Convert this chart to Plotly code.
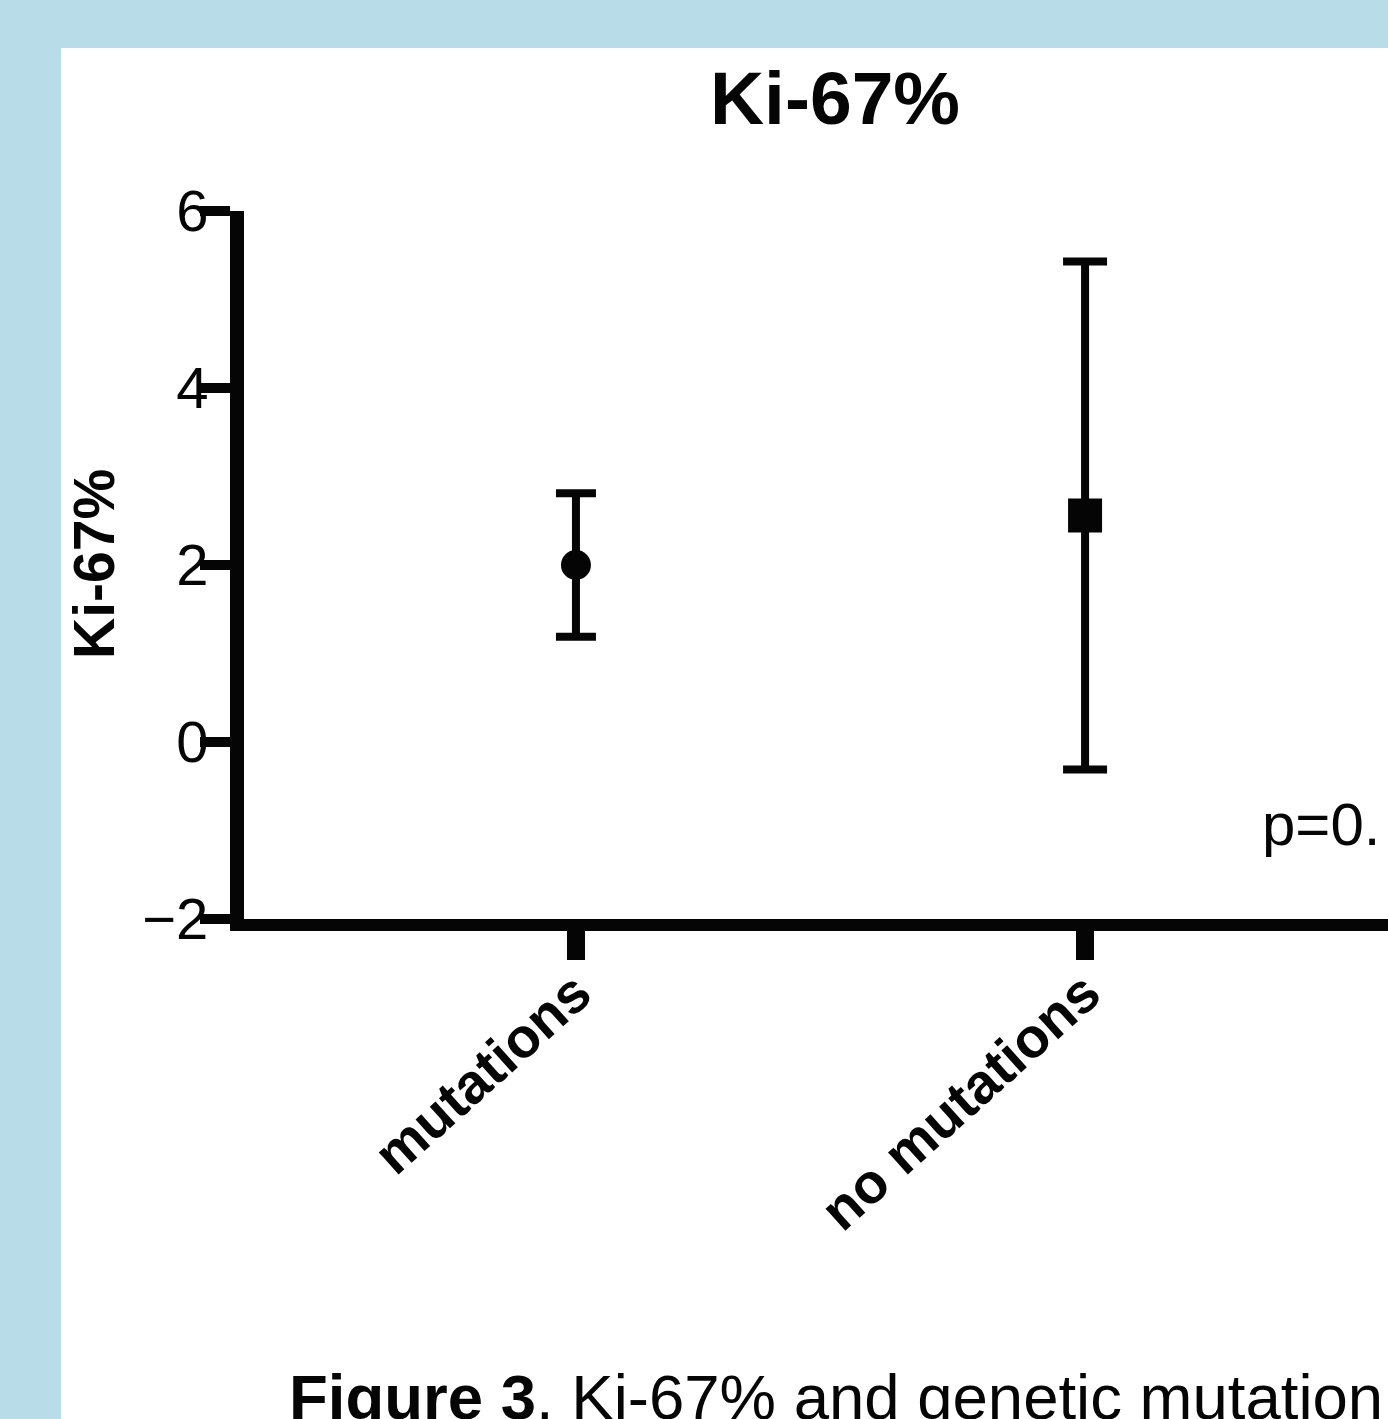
import plotly.graph_objects as go

categories = ["mutations", "no mutations"]
means = [2.0, 2.56]
errors = [0.81, 2.87]
symbols = ["circle", "square"]
marker_sizes = [30, 34]
cap_widths = [20, 22]
y_ticks = [-2, 0, 2, 4, 6]

W, H = 1388, 1419
L, R, T, B = 244, 0, 211, 500
PW, PH = W - L - R, H - T - B
FONT = "Arial, 'Liberation Sans', sans-serif"
BLACK = "#050505"

def px_to_paper_x(px):
    return (px - L) / PW

def px_to_paper_y(py):
    return (H - B - py) / PH

fig = go.Figure()
for i, cat in enumerate(categories):
    fig.add_trace(go.Scatter(
        x=[i], y=[means[i]], mode="markers",
        marker=dict(symbol=symbols[i], size=marker_sizes[i], color=BLACK),
        error_y=dict(type="data", array=[errors[i]], visible=True,
                     thickness=8, width=cap_widths[i], color=BLACK),
        showlegend=False, name=cat,
    ))

fig.add_shape(type="rect", xref="paper", yref="paper",
              x0=px_to_paper_x(61), x1=1.05, y0=-1.0, y1=px_to_paper_y(48),
              fillcolor="white", line=dict(width=0), layer="below")

fig.add_annotation(text="<b>Ki-67%</b>", xref="paper", yref="paper",
                   x=px_to_paper_x(94), y=px_to_paper_y(564), textangle=-90,
                   showarrow=False, font=dict(family=FONT, size=57, color=BLACK),
                   xanchor="center", yanchor="middle")
fig.add_annotation(text="p=0.", xref="paper", yref="paper",
                   x=px_to_paper_x(1260), y=px_to_paper_y(824),
                   showarrow=False, font=dict(family=FONT, size=60, color=BLACK),
                   xanchor="left", yanchor="middle")
fig.add_annotation(text="<b>Figure 3</b>. Ki-67% and genetic mutation", xref="paper", yref="paper",
                   x=px_to_paper_x(287), y=px_to_paper_y(1397),
                   showarrow=False, font=dict(family=FONT, size=63.5, color=BLACK),
                   xanchor="left", yanchor="middle")

fig.update_layout(
    width=W, height=H,
    margin=dict(l=L, r=R, t=T, b=B, autoexpand=False),
    paper_bgcolor="#b8dde8", plot_bgcolor="white",
    title=dict(text="<b>Ki-67%</b>", xref="container", yref="container",
               x=835 / W, y=1 - 98 / H, xanchor="center", yanchor="middle",
               font=dict(family=FONT, size=75, color=BLACK)),
    xaxis=dict(range=[-0.652, 1.595], tickvals=list(range(len(categories))),
               ticktext=categories, tickangle=-42, ticks="outside", ticklen=29,
               tickwidth=18, tickcolor=BLACK, showline=True, linewidth=12,
               linecolor=BLACK, showgrid=False, zeroline=False,
               ticklabelstandoff=-22,
               tickfont=dict(family=FONT, size=56, color=BLACK, weight="bold")),
    yaxis=dict(range=[-2, 6], tickvals=y_ticks, ticks="outside", ticklen=30,
               tickwidth=10, tickcolor=BLACK, showline=True, linewidth=14,
               linecolor=BLACK, showgrid=False, zeroline=False,
               ticklabelstandoff=-20,
               tickfont=dict(family=FONT, size=58, color=BLACK)),
)

fig.write_html("out.html", config={"displayModeBar": False},
               post_script="document.body.style.margin='0';document.body.style.overflow='hidden';")
